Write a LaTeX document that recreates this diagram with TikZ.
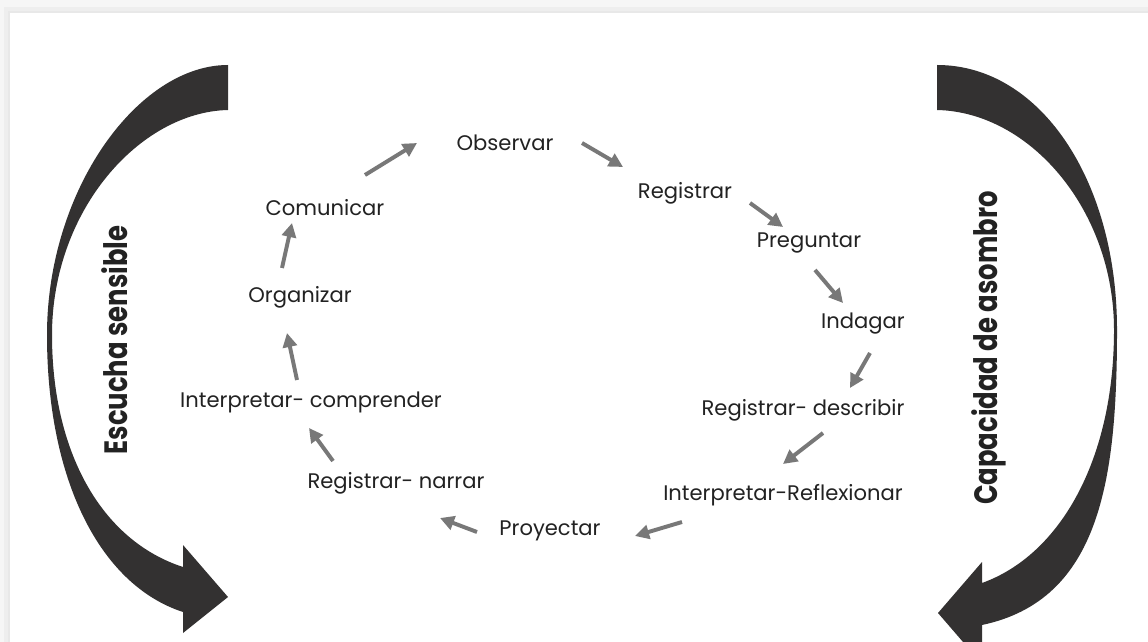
\documentclass[tikz,border=0pt]{standalone}
\usepackage{fontspec}
\setmainfont{Poppins}
\usetikzlibrary{arrows.meta,positioning}
\definecolor{CicloTexto}{RGB}{34,34,34}
\definecolor{CicloGris}{RGB}{120,120,120}
\definecolor{CicloOscuro}{RGB}{51,49,49}
\definecolor{CicloFondo}{RGB}{246,246,246}
\definecolor{CicloSombra}{RGB}{232,232,232}
\tikzset{
  ciclo/paso/.style={
    text=CicloTexto,
    inner sep=2pt,
    font=\fontsize{15}{18}\selectfont
  },
  ciclo/lema/.style={
    rotate=90,
    xscale=0.8,
    text=CicloTexto,
    inner sep=0pt,
    font=\fontsize{23}{26}\selectfont\bfseries
  },
  ciclo/flecha/.style={-{Triangle[length=10pt,width=10pt]}, line width=2.8pt, draw=CicloGris},
  ciclo/curva/.style={fill=CicloOscuro, draw=none}
}

\begin{document}
\begin{tikzpicture}[x=0.025cm,y=-0.025cm]
  \useasboundingbox (0,0) rectangle (1148,642);
  \clip (0,0) rectangle (1148,642);
  % page and panel
  \fill[CicloFondo] (0,0) rectangle (1148,642);
  \fill[CicloSombra!60!CicloFondo] (4,7) rectangle (1148,642);
  \fill[CicloSombra] (8,11) rectangle (1148,642);
  \fill[white] (10,13) rectangle (1148,642);

  % big curved arrows
  \fill[ciclo/curva] (228,65) .. controls (138,65) and (47,190) .. (47,335)
    .. controls (47,480) and (100,585) .. (183,612)
    -- (183,633) -- (228,597) -- (183,545) -- (183,567)
    .. controls (100,540) and (52,450) .. (52,335)
    .. controls (52,210) and (140,112) .. (228,110) -- cycle;
  \fill[ciclo/curva] (937,65) .. controls (1040,65) and (1117,180) .. (1117,330)
    .. controls (1117,480) and (1100,600) .. (982,625)
    -- (982,664) -- (938,613) -- (982,562) -- (982,583)
    .. controls (1060,555) and (1114,460) .. (1114,330)
    .. controls (1114,210) and (1030,112) .. (937,110) -- cycle;

  \node[ciclo/lema] (escucha) at (115,340) {Escucha sensible};
  \node[ciclo/lema] (asombro) at (989,348) {Capacidad de asombro};

  % steps of the cycle
  \node[ciclo/paso] (obs) at (505,143) {Observar};
  \node[ciclo/paso] (reg) at (685,193) {Registrar};
  \node[ciclo/paso] (pre) at (809,243) {Preguntar};
  \node[ciclo/paso] (ind) at (863,324) {Indagar};
  \node[ciclo/paso] (regdes) at (803,410) {Registrar- describir};
  \node[ciclo/paso] (intref) at (783,495) {Interpretar-Reflexionar};
  \node[ciclo/paso] (pro) at (550,531) {Proyectar};
  \node[ciclo/paso] (regnar) at (396,483) {Registrar- narrar};
  \node[ciclo/paso] (intcom) at (311,402) {Interpretar- comprender};
  \node[ciclo/paso] (org) at (300,297) {Organizar};
  \node[ciclo/paso] (com) at (325,208) {Comunicar};

  % arrow ends between the steps
  \coordinate (com-a) at (365,175);    \coordinate (com-b) at (417,143);
  \coordinate (obs-a) at (582,143);    \coordinate (obs-b) at (623,167);
  \coordinate (reg-a) at (750,203);    \coordinate (reg-b) at (783,227);
  \coordinate (pre-a) at (815,270);    \coordinate (pre-b) at (843,303);
  \coordinate (ind-a) at (870,353);    \coordinate (ind-b) at (850,388);
  \coordinate (regdes-a) at (823,433); \coordinate (regdes-b) at (783,464);
  \coordinate (intref-a) at (682,522); \coordinate (intref-b) at (635,536);
  \coordinate (pro-a) at (477,532);    \coordinate (pro-b) at (440,518);
  \coordinate (regnar-a) at (333,461); \coordinate (regnar-b) at (309,428);
  \coordinate (intcom-a) at (297,380); \coordinate (intcom-b) at (287,333);
  \coordinate (org-a) at (282,268);    \coordinate (org-b) at (292,223);

  \draw[ciclo/flecha] (com-a) -- (com-b);
  \draw[ciclo/flecha] (obs-a) -- (obs-b);
  \draw[ciclo/flecha] (reg-a) -- (reg-b);
  \draw[ciclo/flecha] (pre-a) -- (pre-b);
  \draw[ciclo/flecha] (ind-a) -- (ind-b);
  \draw[ciclo/flecha] (regdes-a) -- (regdes-b);
  \draw[ciclo/flecha] (intref-a) -- (intref-b);
  \draw[ciclo/flecha] (pro-a) -- (pro-b);
  \draw[ciclo/flecha] (regnar-a) -- (regnar-b);
  \draw[ciclo/flecha] (intcom-a) -- (intcom-b);
  \draw[ciclo/flecha] (org-a) -- (org-b);
\end{tikzpicture}
\end{document}
